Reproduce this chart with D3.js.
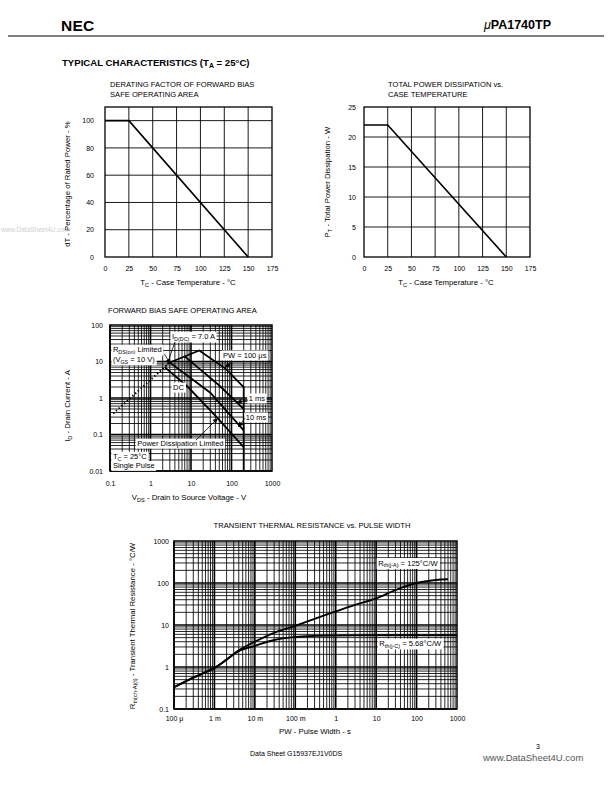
<!DOCTYPE html>
<html><head><meta charset="utf-8">
<script src="https://cdn.jsdelivr.net/npm/d3@7"></script>
<style>body{margin:0;background:#fff} text{font-family:"Liberation Sans",Arial,sans-serif}</style>
</head><body><svg id="c" width="612" height="792"></svg>
<script>
// ---------- data ----------
const derTemp = [0, 25, 150], derPct = [100, 100, 0];
const derXTicks = [0, 25, 50, 75, 100, 125, 150, 175];
const derYTicks = [0, 20, 40, 60, 80, 100];
const pdTemp = [0, 25, 150], pdWatt = [22, 22, 0];
const pdXTicks = [0, 25, 50, 75, 100, 125, 150, 175];
const pdYTicks = [0, 5, 10, 15, 20, 25];

const rdsV = [0.12, 3.0], rdsI = [0.375, 9.4];
const pw100V = [3.0, 16, 72, 200, 200], pw100I = [9.4, 20, 6.3, 2.0, 0.01];
const pw1msV = [7, 50, 200], pw1msI = [13.8, 2.2, 0.5];
const pw10msV = [3.0, 30, 200], pw10msI = [9.4, 1.4, 0.13];
const dcV = [2.24, 8.4, 41, 200], dcI = [7, 2.0, 0.32, 0.045];
const soaXTicks = [0.1, 1, 10, 100, 1000], soaXLabels = ["0.1", "1", "10", "100", "1000"];
const soaYTicks = [0.01, 0.1, 1, 10, 100], soaYLabels = ["0.01", "0.1", "1", "10", "100"];

const pwSecA = [1e-4, 3e-4, 1e-3, 2e-3, 4e-3, 1e-2, 3e-2, 1e-1, 3e-1, 1, 3, 10, 30, 100, 300, 600];
const rthJA  = [0.33, 0.56, 0.95, 1.5, 2.5, 4.0, 6.5, 9.5, 14, 21, 30, 43, 68, 100, 118, 123];
const pwSecC = [1e-4, 3e-4, 1e-3, 2e-3, 4e-3, 1e-2, 3e-2, 1e-1, 3e-1, 1, 10, 100, 1000];
const rthJC  = [0.33, 0.56, 0.95, 1.5, 2.4, 3.2, 4.4, 5.2, 5.5, 5.6, 5.68, 5.68, 5.68];
const thXTicks = [1e-4, 1e-3, 1e-2, 1e-1, 1, 10, 100, 1000];
const thXLabels = ["100 \u03bc", "1 m", "10 m", "100 m", "1", "10", "100", "1000"];
const thYTicks = [0.1, 1, 10, 100, 1000], thYLabels = ["0.1", "1", "10", "100", "1000"];

// ---------- helpers ----------
const svg = d3.select("#c");
const FONT = '"Liberation Sans", Arial, sans-serif';
svg.append("defs").append("marker").attr("id", "arr").attr("viewBox", "0 0 10 10")
  .attr("refX", 10).attr("refY", 5).attr("markerWidth", 6).attr("markerHeight", 5)
  .attr("markerUnits", "userSpaceOnUse").attr("orient", "auto")
  .append("path").attr("d", "M0,0L10,5L0,10z").attr("fill", "#000");

function rich(g, x, y, parts, size, anchor, weight) {
  const t = g.append("text").attr("x", x).attr("y", y).attr("font-size", size)
    .attr("text-anchor", anchor || "start").attr("font-family", FONT);
  if (weight) t.attr("font-weight", weight);
  let pend = 0;
  parts.forEach(p => {
    if (typeof p === "string") { const s = t.append("tspan").text(p); if (pend) { s.attr("dy", pend); pend = 0; } }
    else { const sh = size * 0.25; t.append("tspan").attr("font-size", size * 0.72).attr("dy", sh + pend).text(p.sub); pend = -sh; }
  });
  return t;
}
function boxed(g, x, y, parts, size) {
  const t = rich(g, x, y, parts, size);
  const b = t.node().getBBox();
  g.insert("rect", () => t.node()).attr("x", b.x - 1.5).attr("y", b.y - 0.5)
    .attr("width", b.width + 3).attr("height", b.height + 1).attr("fill", "#fff");
  return t;
}
function logGrid(g, x, y, xd, yd) {
  const vals = d => { const out = []; for (let e = Math.round(Math.log10(d[0])); e < Math.round(Math.log10(d[1])); e++)
    for (let k = 1; k <= 9; k++) out.push({ v: k * Math.pow(10, e), major: k === 1 }); return out; };
  vals(xd).forEach(o => g.append("line").attr("x1", x(o.v)).attr("x2", x(o.v)).attr("y1", y.range()[0]).attr("y2", y.range()[1])
    .attr("stroke", "#000").attr("stroke-width", o.major ? 1.6 : 0.85));
  vals(yd).forEach(o => g.append("line").attr("y1", y(o.v)).attr("y2", y(o.v)).attr("x1", x.range()[0]).attr("x2", x.range()[1])
    .attr("stroke", "#000").attr("stroke-width", o.major ? 1.6 : 0.85));
}
function styleAxis(sel, size) {
  sel.select(".domain").remove();
  sel.attr("font-family", FONT).attr("font-size", size);
  sel.selectAll("text").attr("fill", "#000");
}
function curve(g, x, y, xs, ys, w, curveType) {
  const pts = xs.map((v, i) => [v, ys[i]]);
  return g.append("path").attr("d", d3.line().x(d => x(d[0])).y(d => y(d[1])).curve(curveType || d3.curveLinear)(pts))
    .attr("fill", "none").attr("stroke", "#000").attr("stroke-width", w);
}
function leader(g, x, y, a, b, arrow) {
  const l = g.append("line").attr("x1", x(a[0])).attr("y1", y(a[1])).attr("x2", x(b[0])).attr("y2", y(b[1]))
    .attr("stroke", "#000").attr("stroke-width", 0.8);
  if (arrow) l.attr("marker-end", "url(#arr)");
}

// ---------- page header ----------
svg.append("text").attr("x", 61).attr("y", 31).attr("font-size", 15.5).attr("font-weight", "bold")
  .attr("font-family", FONT).attr("letter-spacing", 0.2).text("NEC");
const pn = svg.append("text").attr("x", 551).attr("y", 29).attr("font-size", 12.5).attr("font-weight", "bold")
  .attr("text-anchor", "end").attr("font-family", FONT);
pn.append("tspan").attr("font-style", "italic").attr("font-weight", "normal").text("\u03bc");
pn.append("tspan").text("PA1740TP");
svg.append("line").attr("x1", 8).attr("x2", 604).attr("y1", 36).attr("y2", 36).attr("stroke", "#000").attr("stroke-width", 1);
rich(svg, 62, 66, ["TYPICAL CHARACTERISTICS (T", { sub: "A" }, " = 25\u00b0C)"], 9.6, "start", "bold");
svg.append("text").attr("x", 1).attr("y", 232).attr("font-size", 6.5)
  .attr("fill", "#cfcfcf").attr("font-family", FONT).text("www.DataSheet4U.com");

// ---------- chart 1: derating ----------
{
  const g = svg.append("g");
  const x = d3.scaleLinear([0, 175], [105, 272]);
  const y = d3.scaleLinear([0, 110], [257, 107]);
  derXTicks.slice(1, -1).forEach(v => g.append("line").attr("x1", x(v)).attr("x2", x(v)).attr("y1", y(0)).attr("y2", y(110)).attr("stroke", "#000").attr("stroke-width", 0.9));
  derYTicks.slice(1).forEach(v => g.append("line").attr("y1", y(v)).attr("y2", y(v)).attr("x1", x(0)).attr("x2", x(175)).attr("stroke", "#000").attr("stroke-width", 0.9));
  g.append("rect").attr("x", x(0)).attr("y", y(110)).attr("width", x(175) - x(0)).attr("height", y(0) - y(110)).attr("fill", "none").attr("stroke", "#000").attr("stroke-width", 1.3);
  curve(g, x, y, derTemp, derPct, 1.6);
  g.append("g").attr("transform", `translate(0,${y(0)})`).call(d3.axisBottom(x).tickValues(derXTicks).tickSize(0).tickPadding(9)).call(s => styleAxis(s, 7));
  g.append("g").attr("transform", `translate(${x(0)},0)`).call(d3.axisLeft(y).tickValues(derYTicks).tickSize(0).tickPadding(11)).call(s => styleAxis(s, 7));
  rich(g, 110, 87, ["DERATING FACTOR OF FORWARD BIAS"], 7.6);
  rich(g, 110, 97, ["SAFE OPERATING AREA"], 7.6);
  rich(g, 188, 285, ["T", { sub: "C" }, " - Case Temperature - \u00b0C"], 7.8, "middle");
  const yt = rich(g, 0, 0, ["dT - Percentage of Rated Power - %"], 7.8, "middle");
  yt.attr("transform", "translate(70,184) rotate(-90)");
}

// ---------- chart 2: total power dissipation ----------
{
  const g = svg.append("g");
  const x = d3.scaleLinear([0, 175], [364, 530]);
  const y = d3.scaleLinear([0, 25], [257, 107]);
  pdXTicks.slice(1, -1).forEach(v => g.append("line").attr("x1", x(v)).attr("x2", x(v)).attr("y1", y(0)).attr("y2", y(25)).attr("stroke", "#000").attr("stroke-width", 0.9));
  pdYTicks.slice(1, -1).forEach(v => g.append("line").attr("y1", y(v)).attr("y2", y(v)).attr("x1", x(0)).attr("x2", x(175)).attr("stroke", "#000").attr("stroke-width", 0.9));
  g.append("rect").attr("x", x(0)).attr("y", y(25)).attr("width", x(175) - x(0)).attr("height", y(0) - y(25)).attr("fill", "none").attr("stroke", "#000").attr("stroke-width", 1.3);
  curve(g, x, y, pdTemp, pdWatt, 1.6);
  g.append("g").attr("transform", `translate(0,${y(0)})`).call(d3.axisBottom(x).tickValues(pdXTicks).tickSize(0).tickPadding(9)).call(s => styleAxis(s, 7));
  g.append("g").attr("transform", `translate(${x(0)},0)`).call(d3.axisLeft(y).tickValues(pdYTicks).tickSize(0).tickPadding(8)).call(s => styleAxis(s, 7));
  rich(g, 388, 87, ["TOTAL POWER DISSIPATION vs."], 7.6);
  rich(g, 388, 97, ["CASE TEMPERATURE"], 7.6);
  rich(g, 446, 285, ["T", { sub: "C" }, " - Case Temperature - \u00b0C"], 7.8, "middle");
  const yt = rich(g, 0, 0, ["P", { sub: "T" }, " - Total Power Dissipation - W"], 7.8, "middle");
  yt.attr("transform", "translate(330,182) rotate(-90)");
}

// ---------- chart 3: SOA ----------
{
  const g = svg.append("g");
  const x = d3.scaleLog([0.1, 1000], [110, 272]);
  const y = d3.scaleLog([0.01, 100], [471, 325]);
  logGrid(g, x, y, [0.1, 1000], [0.01, 100]);
  g.append("rect").attr("x", 110).attr("y", 325).attr("width", 162).attr("height", 146).attr("fill", "none").attr("stroke", "#000").attr("stroke-width", 1.5);
  curve(g, x, y, rdsV, rdsI, 2).attr("stroke-dasharray", "1.3,2.4");
  curve(g, x, y, pw100V, pw100I, 1.8);
  curve(g, x, y, pw1msV, pw1msI, 1.8);
  curve(g, x, y, pw10msV, pw10msI, 1.8);
  curve(g, x, y, dcV, dcI, 1.8);
  const fs = 7.5;
  boxed(g, x(3.4), y(41), ["I", { sub: "D(DC)" }, " = 7.0 A"], fs);
  boxed(g, x(0.118), y(18), ["R", { sub: "DS(on)" }, " Limited"], fs);
  boxed(g, x(0.118), y(9.7), ["(V", { sub: "GS" }, " = 10 V)"], fs);
  boxed(g, x(62), y(12.5), ["PW = 100 \u03bcs"], fs);
  boxed(g, x(3.6), y(1.65), ["DC"], fs);
  boxed(g, x(265), y(0.83), ["1 ms"], fs);
  boxed(g, x(225), y(0.25), ["10 ms"], fs);
  boxed(g, x(0.47), y(0.048), ["Power Dissipation Limited"], fs);
  boxed(g, x(0.118), y(0.021), ["T", { sub: "C" }, " = 25\u00b0C"], fs);
  boxed(g, x(0.118), y(0.0118), ["Single Pulse"], fs);
  leader(g, x, y, [4.0, 34], [2.5, 7.6], false);
  leader(g, x, y, [2.2, 16], [3.1, 8.6], true);
  leader(g, x, y, [110, 9.9], [69, 7.0], true);
  leader(g, x, y, [257, 0.88], [134, 0.76], true);
  leader(g, x, y, [215, 0.28], [147, 0.16], true);
  leader(g, x, y, [13.3, 0.07], [46, 0.28], true);
  g.append("g").attr("transform", `translate(0,${y(0.01)})`).call(d3.axisBottom(x).tickValues(soaXTicks).tickFormat((d, i) => soaXLabels[i]).tickSize(0).tickPadding(10)).call(s => styleAxis(s, 7));
  g.append("g").attr("transform", `translate(${x(0.1)},0)`).call(d3.axisLeft(y).tickValues(soaYTicks).tickFormat((d, i) => soaYLabels[i]).tickSize(0).tickPadding(7)).call(s => styleAxis(s, 7));
  rich(g, 108, 313, ["FORWARD BIAS SAFE OPERATING AREA"], 7.6);
  rich(g, 189, 500, ["V", { sub: "DS" }, " - Drain to Source Voltage - V"], 7.8, "middle");
  const yt = rich(g, 0, 0, ["I", { sub: "D" }, " - Drain Current - A"], 7.8, "middle");
  yt.attr("transform", "translate(70,406) rotate(-90)");
}

// ---------- chart 4: transient thermal resistance ----------
{
  const g = svg.append("g");
  const x = d3.scaleLog([1e-4, 1e3], [174, 457]);
  const y = d3.scaleLog([0.1, 1000], [709, 541]);
  logGrid(g, x, y, [1e-4, 1e3], [0.1, 1000]);
  g.append("rect").attr("x", 174).attr("y", 541).attr("width", 283).attr("height", 168).attr("fill", "none").attr("stroke", "#000").attr("stroke-width", 1.5);
  curve(g, x, y, pwSecA, rthJA, 1.9, d3.curveCatmullRom);
  curve(g, x, y, pwSecC, rthJC, 1.9, d3.curveCatmullRom);
  boxed(g, x(11.2), y(260), ["R", { sub: "th(j-A)" }, " = 125\u00b0C/W"], 7.6);
  boxed(g, x(12), y(3.15), ["R", { sub: "th(j-C)" }, " = 5.68\u00b0C/W"], 7.6);
  g.append("g").attr("transform", `translate(0,${y(0.1)})`).call(d3.axisBottom(x).tickValues(thXTicks).tickFormat((d, i) => thXLabels[i]).tickSize(0).tickPadding(7)).call(s => styleAxis(s, 7));
  g.append("g").attr("transform", `translate(${x(1e-4)},0)`).call(d3.axisLeft(y).tickValues(thYTicks).tickFormat((d, i) => thYLabels[i]).tickSize(0).tickPadding(5)).call(s => styleAxis(s, 7));
  rich(g, 312, 528, ["TRANSIENT THERMAL RESISTANCE vs. PULSE WIDTH"], 7.6, "middle");
  rich(g, 315, 734, ["PW - Pulse Width - s"], 7.8, "middle");
  const yt = rich(g, 0, 0, ["R", { sub: "th(ch-A)(t)" }, " - Transient Thermal Resistance - \u00b0C/W"], 7.8, "middle");
  yt.attr("transform", "translate(135,626) rotate(-90)");
}

// ---------- footer ----------
svg.append("text").attr("x", 250).attr("y", 756).attr("font-size", 7).attr("font-family", FONT).text("Data Sheet  G15937EJ1V0DS");
svg.append("text").attr("x", 483).attr("y", 761).attr("font-size", 9.5).attr("fill", "#555").attr("font-family", FONT).text("www.DataSheet4U.com");
svg.append("text").attr("x", 536).attr("y", 749).attr("font-size", 7).attr("font-family", FONT).text("3");
</script></body></html>
